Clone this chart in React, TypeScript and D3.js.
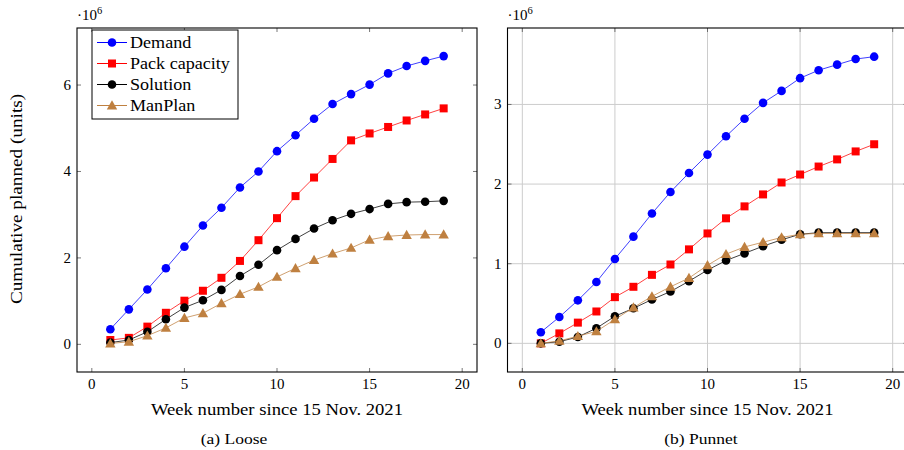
import * as d3 from "d3";
import { useEffect, useRef } from "react";

// week index (x axis)
const weeks = [1, 2, 3, 4, 5, 6, 7, 8, 9, 10, 11, 12, 13, 14, 15, 16, 17, 18, 19];

// (a) Loose, values in 10^6 units
const looseDemand = [0.35, 0.81, 1.27, 1.76, 2.26, 2.75, 3.16, 3.63, 4.0, 4.47, 4.84, 5.22, 5.56, 5.79, 6.01, 6.27, 6.44, 6.56, 6.67];
const loosePack = [0.1, 0.15, 0.41, 0.73, 1.01, 1.24, 1.54, 1.93, 2.41, 2.92, 3.43, 3.86, 4.29, 4.72, 4.88, 5.03, 5.18, 5.32, 5.46];
const looseSolution = [0.04, 0.1, 0.29, 0.58, 0.85, 1.02, 1.26, 1.58, 1.84, 2.18, 2.44, 2.68, 2.87, 3.02, 3.13, 3.25, 3.29, 3.3, 3.32];
const looseManPlan = [0.02, 0.06, 0.2, 0.38, 0.61, 0.72, 0.95, 1.16, 1.33, 1.56, 1.76, 1.95, 2.1, 2.23, 2.42, 2.5, 2.53, 2.54, 2.54];

// (b) Punnet
const punnetDemand = [0.14, 0.33, 0.54, 0.77, 1.06, 1.34, 1.63, 1.9, 2.14, 2.37, 2.6, 2.82, 3.02, 3.17, 3.33, 3.43, 3.5, 3.57, 3.6];
const punnetPack = [0.0, 0.125, 0.26, 0.4, 0.58, 0.71, 0.86, 0.99, 1.18, 1.38, 1.57, 1.72, 1.87, 2.02, 2.12, 2.22, 2.31, 2.41, 2.5];
const punnetSolution = [0.0, 0.02, 0.08, 0.19, 0.34, 0.44, 0.55, 0.65, 0.78, 0.92, 1.04, 1.13, 1.22, 1.3, 1.37, 1.39, 1.39, 1.39, 1.39];
const punnetManPlan = [0.0, 0.03, 0.09, 0.15, 0.3, 0.45, 0.59, 0.71, 0.82, 0.98, 1.12, 1.21, 1.27, 1.33, 1.37, 1.38, 1.38, 1.38, 1.38];

const seriesNames = ["Demand", "Pack capacity", "Solution", "ManPlan"];
const colors = ["#0000ff", "#ff0000", "#000000", "#bf8040"];
const markers = ["circle", "square", "circle", "triangle"];

const xTicks = [0, 5, 10, 15, 20];
const looseYTicks = [0, 2, 4, 6];
const punnetYTicks = [0, 1, 2, 3];

const FONT = "Liberation Serif, serif";

// Computer Modern runs wider than Times, so stretch labels a bit
const widen = (sel, k = 1.13) => {
    const node = sel.node();
    if (!node) return;
    const w = node.getComputedTextLength();
    sel.attr("textLength", w * k).attr("lengthAdjust", "spacingAndGlyphs");
};

const drawMarker = (g, kind, x, y, color) => {
    if (kind === "circle") {
        g.append("circle").attr("cx", x).attr("cy", y).attr("r", 4.3).attr("fill", color);
    } else if (kind === "square") {
        g.append("rect").attr("x", x - 4).attr("y", y - 4).attr("width", 8).attr("height", 8).attr("fill", color);
    } else {
        const s = 5.2;
        g.append("path")
            .attr("d", `M${x},${y - s} L${x + s},${y + s * 0.75} L${x - s},${y + s * 0.75} Z`)
            .attr("fill", color);
    }
};

const Panel = (props) => {
    const ref = useRef(null);

    useEffect(() => {
        const g = d3.select(ref.current);
        g.selectAll("*").remove();

        const left = props.left;
        const top = 28;
        const width = 400;
        const height = 344;

        const x = d3.scaleLinear().domain([-0.8, 20.8]).range([left, left + width]);
        const y = d3.scaleLinear().domain(props.yDomain).range([top + height, top]);

        if (props.grid) {
            xTicks.forEach(t => {
                g.append("line").attr("x1", x(t)).attr("x2", x(t)).attr("y1", top).attr("y2", top + height)
                    .attr("stroke", "#cccccc").attr("stroke-width", 1);
            });
            props.yTicks.forEach(t => {
                g.append("line").attr("x1", left).attr("x2", left + width).attr("y1", y(t)).attr("y2", y(t))
                    .attr("stroke", "#cccccc").attr("stroke-width", 1);
            });
        }

        // inside ticks on all four sides
        xTicks.forEach(t => {
            g.append("line").attr("x1", x(t)).attr("x2", x(t)).attr("y1", top + height).attr("y2", top + height - 4)
                .attr("stroke", "#555").attr("stroke-width", 0.8);
            g.append("line").attr("x1", x(t)).attr("x2", x(t)).attr("y1", top).attr("y2", top + 4)
                .attr("stroke", "#555").attr("stroke-width", 0.8);
            g.append("text").attr("x", x(t)).attr("y", top + height + 17)
                .attr("text-anchor", "middle").attr("font-family", FONT).attr("font-size", 15)
                .text(t);
        });
        props.yTicks.forEach(t => {
            g.append("line").attr("x1", left).attr("x2", left + 4).attr("y1", y(t)).attr("y2", y(t))
                .attr("stroke", "#555").attr("stroke-width", 0.8);
            g.append("line").attr("x1", left + width).attr("x2", left + width - 4).attr("y1", y(t)).attr("y2", y(t))
                .attr("stroke", "#555").attr("stroke-width", 0.8);
            g.append("text").attr("x", left - 6).attr("y", y(t) + 5)
                .attr("text-anchor", "end").attr("font-family", FONT).attr("font-size", 15)
                .text(t);
        });

        // ·10^6
        const exp = g.append("text").attr("x", left).attr("y", 20)
            .attr("font-family", FONT).attr("font-size", 15);
        exp.append("tspan").text("·10");
        exp.append("tspan").attr("dy", -6).attr("font-size", 10.5).text("6");

        const line = d3.line().x((d, i) => x(weeks[i])).y(d => y(d));

        props.series.forEach((vals, si) => {
            g.append("path").datum(vals).attr("d", line)
                .attr("fill", "none").attr("stroke", colors[si]).attr("stroke-width", 1).attr("stroke-opacity", 0.75);
            vals.forEach((v, i) => drawMarker(g, markers[si], x(weeks[i]), y(v), colors[si]));
        });

        g.append("rect").attr("x", left).attr("y", top).attr("width", width).attr("height", height)
            .attr("fill", "none").attr("stroke", "#000").attr("stroke-width", 1.1);

        if (props.legend) {
            const lg = g.append("g");
            lg.append("rect").attr("x", 92).attr("y", 30).attr("width", 146).attr("height", 89)
                .attr("fill", "#fff").attr("stroke", "#000").attr("stroke-width", 1);
            seriesNames.forEach((name, i) => {
                const ly = 42.5 + i * 21;
                lg.append("line").attr("x1", 97).attr("x2", 127).attr("y1", ly).attr("y2", ly)
                    .attr("stroke", colors[i]).attr("stroke-width", 1);
                drawMarker(lg, markers[i], 112, ly, colors[i]);
                const t = lg.append("text").attr("x", 130).attr("y", ly + 5.5)
                    .attr("font-family", FONT).attr("font-size", 16).text(name);
                widen(t);
            });
        }

        const xl = g.append("text").attr("x", left + width / 2).attr("y", 415)
            .attr("text-anchor", "middle").attr("font-family", FONT).attr("font-size", 16.5)
            .text("Week number since 15 Nov. 2021");
        widen(xl);
        const cap = g.append("text").attr("x", props.captionX).attr("y", 444)
            .attr("text-anchor", "middle").attr("font-family", FONT).attr("font-size", 15.5)
            .text(props.caption);
        widen(cap);

        if (props.yLabel) {
            const yl = g.append("text").attr("transform", `translate(22, 199) rotate(-90)`)
                .attr("text-anchor", "middle").attr("font-family", FONT).attr("font-size", 17)
                .text(props.yLabel);
            widen(yl);
        }
    }, [props]);

    return <g ref={ref} />;
};

const App = () => {
    return (
        <div style={{ position: "absolute", left: 0, top: 0 }}>
            <svg width={904} height={450} style={{ display: "block", background: "#fff" }}>
                <Panel
                    left={77}
                    yDomain={[-0.64, 7.32]}
                    yTicks={looseYTicks}
                    grid={false}
                    legend={true}
                    series={[looseDemand, loosePack, looseSolution, looseManPlan]}
                    caption="(a) Loose"
                    captionX={234}
                    yLabel="Cumulative planned (units)"
                />
                <Panel
                    left={507.5}
                    yDomain={[-0.36, 3.96]}
                    yTicks={punnetYTicks}
                    grid={true}
                    legend={false}
                    series={[punnetDemand, punnetPack, punnetSolution, punnetManPlan]}
                    caption="(b) Punnet"
                    captionX={701}
                />
            </svg>
        </div>
    );
};

export default App;
